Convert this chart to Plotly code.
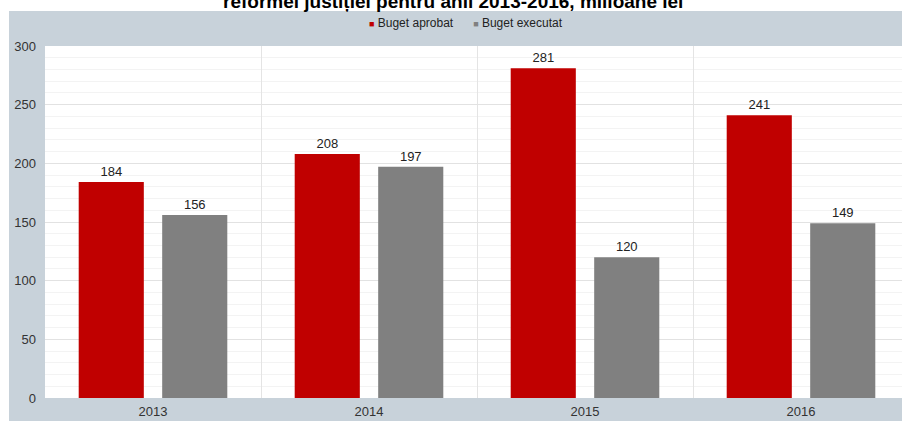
import plotly.graph_objects as go

years = ["2013", "2014", "2015", "2016"]
buget_aprobat = [184, 208, 281, 241]
buget_executat = [156, 197, 120, 149]
series_names = ["Buget aprobat", "Buget executat"]
title_text = "reformei justiției pentru anii 2013-2016, milioane lei"

RED = "#c00000"
GRAY = "#808080"
BG = "#c8d2da"
FONT = "Liberation Sans, Arial, sans-serif"

W, H = 902, 421
ML, MR, MT, MB = 45, 0, 46, 23
PW = W - ML - MR
PH = H - MT - MB

fig = go.Figure()
for vals, col, name in zip([buget_aprobat, buget_executat], [RED, GRAY], series_names):
    fig.add_trace(go.Bar(x=years, y=vals, name=name, marker_color=col, showlegend=False,
                         marker_line_width=0,
                         text=vals, textposition="outside", cliponaxis=False,
                         textfont=dict(size=13, color="#222222", family=FONT)))

def px_x(p):
    return (p - ML) / PW

def px_y(p):
    return 1 + (MT - p) / PH

# grey frame around the (white) plot area, drawn on a white page
frame = dict(type="rect", xref="paper", yref="paper", fillcolor=BG, line_width=0, layer="below")
shapes = [
    dict(frame, x0=px_x(9), x1=px_x(W + 5), y0=1, y1=px_y(11)),          # top band
    dict(frame, x0=px_x(9), x1=0, y0=px_y(H + 5), y1=px_y(11)),           # left band
    dict(frame, x0=px_x(9), x1=px_x(W + 5), y0=px_y(H + 5), y1=0),        # bottom band
]

sq = "<span style='font-size:9px;color:{c}'>■</span>"
legend_text = (sq.format(c=RED) + " " + series_names[0] + "      " +
               sq.format(c=GRAY) + " " + series_names[1])

fig.update_layout(
    width=W, height=H, autosize=False,
    margin=dict(l=ML, r=MR, t=MT, b=MB, pad=0, autoexpand=False),
    paper_bgcolor="white", plot_bgcolor="white",
    font=dict(family=FONT, size=13, color="#333333"),
    barmode="group", bargap=0.227, bargroupgap=0.22,
    shapes=shapes,
    showlegend=False,
    annotations=[
        dict(text="<b>" + title_text + "</b>", xref="paper", yref="paper",
             x=px_x(453), y=px_y(14.5), xanchor="center", yanchor="bottom",
             showarrow=False, font=dict(size=19, color="black", family=FONT)),
        dict(text=legend_text, xref="paper", yref="paper",
             x=px_x(466), y=px_y(23), xanchor="center", yanchor="middle",
             showarrow=False, font=dict(size=12, color="#222222", family=FONT)),
    ],
    xaxis=dict(type="category", range=[-0.5, 3.5 - 7 / 216], showgrid=True, automargin=False,
               tickson="boundaries", gridcolor="#e4e4e4", ticks="", zeroline=False,
               ticklabelstandoff=4,
               tickfont=dict(size=13, color="#333333"), fixedrange=True),
    yaxis=dict(range=[0, 300], dtick=50, showgrid=True, gridcolor="#e2e2e2", zeroline=False,
               automargin=False, fixedrange=True,
               ticks="", ticklabelstandoff=8, tickfont=dict(size=13, color="#333333"),
               minor=dict(dtick=10, showgrid=True, gridcolor="#f3f3f3")),
)

fig.write_html(
    "out.html", config={"displayModeBar": False, "staticPlot": True},
    post_script=("document.documentElement.style.overflow='hidden';"
                 "document.body.style.margin='0';document.body.style.overflow='hidden';"))
